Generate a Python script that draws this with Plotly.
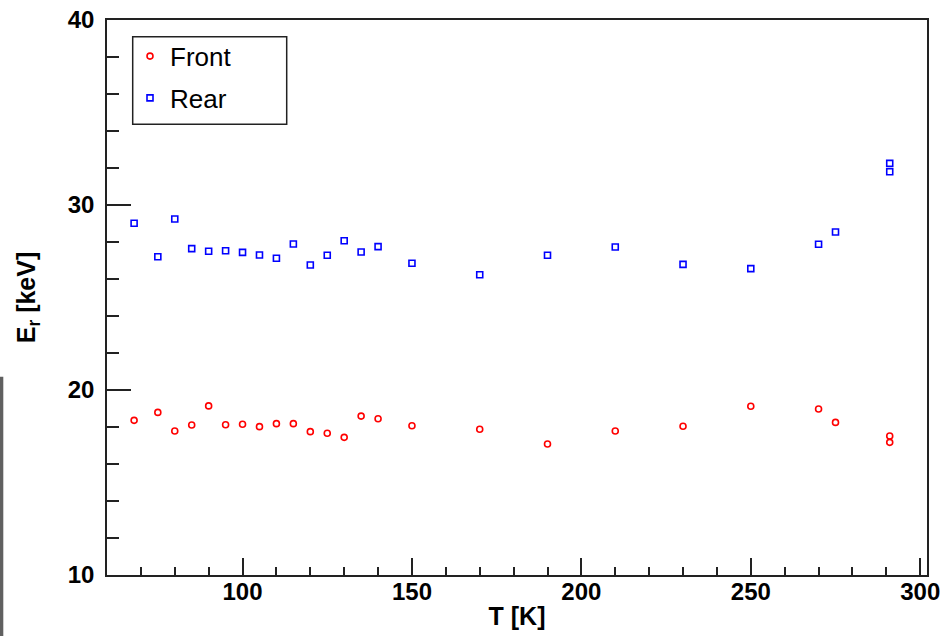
import plotly.graph_objects as go

# Temperatures [K]
T_front = [68, 75, 80, 85, 90, 95, 100, 105, 110, 115, 120, 125, 130, 135, 140,
           150, 170, 190, 210, 230, 250, 270, 275, 291, 291]
E_front = [18.36, 18.79, 17.78, 18.11, 19.14, 18.12, 18.15, 18.02, 18.18, 18.18,
           17.75, 17.66, 17.44, 18.59, 18.45, 18.07, 17.88, 17.08, 17.78, 18.04,
           19.12, 18.97, 18.25, 17.51, 17.17]

T_rear = [68, 75, 80, 85, 90, 95, 100, 105, 110, 115, 120, 125, 130, 135, 140,
          150, 170, 190, 210, 230, 250, 270, 275, 291, 291]
E_rear = [29.01, 27.20, 29.24, 27.64, 27.50, 27.53, 27.44, 27.30, 27.12, 27.89,
          26.76, 27.28, 28.07, 27.46, 27.75, 26.85, 26.23, 27.28, 27.73, 26.79,
          26.56, 27.88, 28.54, 32.25, 31.80]

FONT = "Liberation Sans, Arial, Helvetica, sans-serif"

# plot area in pixels: left 107, right 927, top 20, bottom 575
PW, PH = 820, 555


def px_x(p):
    return (p - 107) / PW


def px_y(p):
    return (575 - p) / PH


fig = go.Figure()
fig.add_trace(go.Scatter(
    x=T_front, y=E_front, mode="markers", name="Front", legendgroup="f",
    marker=dict(symbol="circle-open", size=6, color="#ff0000",
                line=dict(width=1.6, color="#ff0000")),
))
fig.add_trace(go.Scatter(
    x=T_rear, y=E_rear, mode="markers", name="Rear", legendgroup="r",
    marker=dict(symbol="square-open", size=6, color="#0000ff",
                line=dict(width=1.6, color="#0000ff")),
))

axis_common = dict(
    showgrid=False, zeroline=False, showline=True, linecolor="#222222",
    linewidth=1.5, mirror=True, ticks="inside", tickcolor="#222222",
    tickwidth=1.5, tickfont=dict(family=FONT, size=24, color="black",
                                 weight="bold"),
)

fig.update_xaxes(
    range=[60, 302], tick0=0, dtick=50, ticklen=17,
    minor=dict(dtick=10, tick0=0, ticks="inside", ticklen=8,
               tickcolor="#222222", tickwidth=1.5),
    title=dict(text="<b>T [K]</b>", font=dict(family=FONT, size=25,
                                              color="black"), standoff=4),
    ticklabelstandoff=-6,
    **axis_common,
)
fig.update_yaxes(
    range=[10, 40], tick0=0, dtick=10, ticklen=24,
    minor=dict(dtick=2, tick0=0, ticks="inside", ticklen=12,
               tickcolor="#222222", tickwidth=1.5),
    title=dict(text="<b>E<sub>r</sub> [keV]</b>",
               font=dict(family=FONT, size=25, color="black"), standoff=25),
    ticklabelstandoff=6,
    **axis_common,
)

fig.update_layout(
    width=943, height=636,
    margin=dict(l=107, r=16, t=20, b=61, autoexpand=False),
    paper_bgcolor="white", plot_bgcolor="white",
    showlegend=True,
    legend=dict(
        x=px_x(130), y=px_y(32.7), xanchor="left", yanchor="top",
        bgcolor="rgba(0,0,0,0)", borderwidth=0,
        font=dict(family=FONT, size=26, color="black"),
        tracegroupgap=5, itemsizing="trace",
    ),
    shapes=[
        dict(type="rect", xref="paper", yref="paper",
             x0=px_x(132.7), x1=px_x(286.7), y0=px_y(124.3), y1=px_y(36.7),
             fillcolor="white", line=dict(width=1.5, color="#222222"),
             layer="below"),
        dict(type="rect", xref="paper", yref="paper",
             x0=px_x(0), x1=px_x(3.3), y0=px_y(640), y1=px_y(376.7),
             fillcolor="#606060", line=dict(width=0), layer="above"),
    ],
)

fig.write_html(
    "out.html",
    config={"displayModeBar": False},
    post_script="document.body.style.margin='0';document.body.style.overflow='hidden';",
)
